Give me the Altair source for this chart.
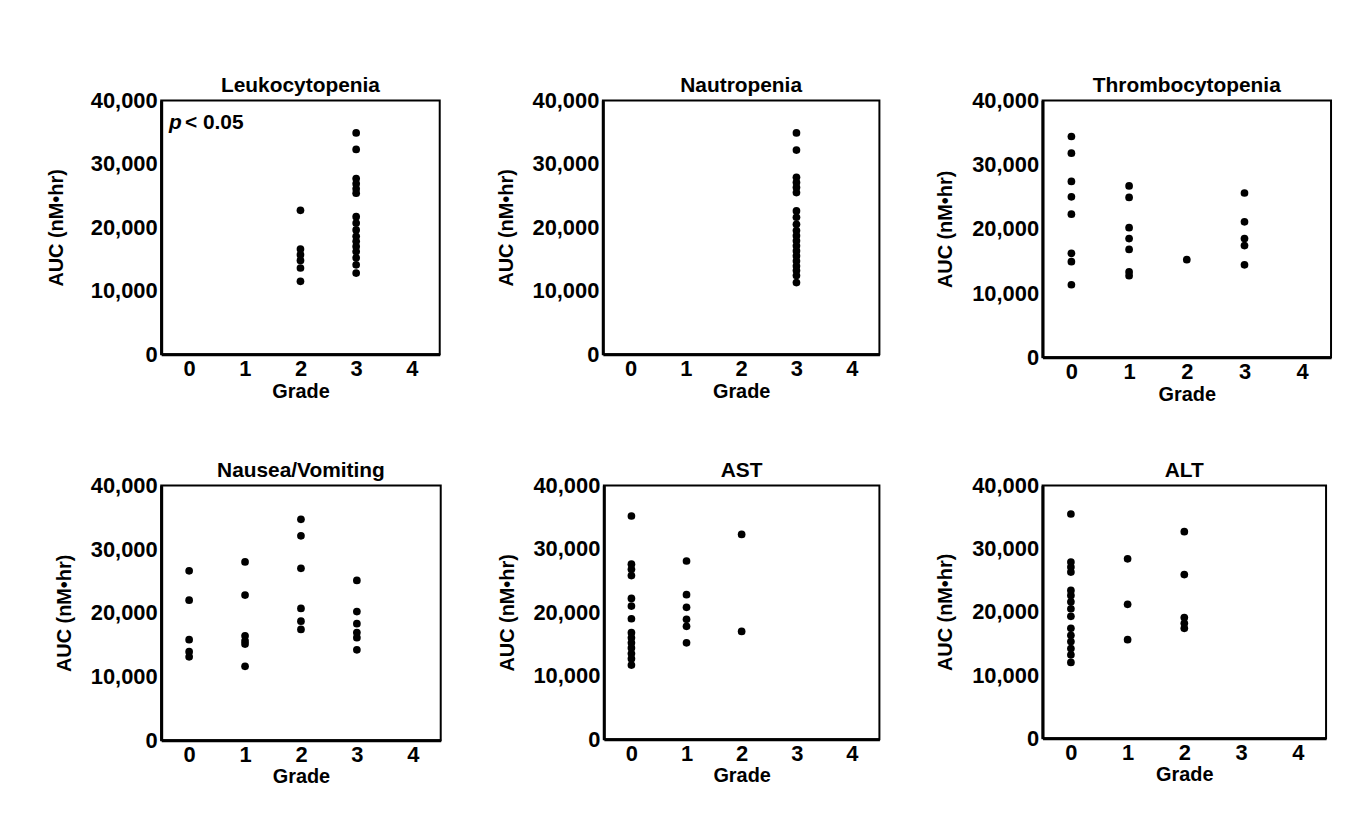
import altair as alt
import pandas as pd

FONT = "Liberation Sans"

# ---- data (AUC in nM*hr) ----
leuko_grade = [2]*6 + [3]*16
leuko_auc = [22700, 16600, 15700, 14800, 13600, 11500,
             34900, 32300, 27700, 26900, 26100, 25400, 21700, 20700, 19600,
             18600, 17800, 17000, 16200, 15200, 14100, 12800]

neutro_grade = [3]*20
neutro_auc = [34900, 32200, 27900, 27100, 26300, 25500, 22600, 21600, 20500, 19500,
              18700, 17900, 17100, 16300, 15500, 14700, 13900, 13200, 12400, 11300]

thrombo_grade = [0]*8 + [1]*7 + [2] + [3]*5
thrombo_auc = [34400, 31800, 27400, 25000, 22300, 16200, 14900, 11300,
               26700, 24900, 20200, 18500, 16800, 13300, 12700,
               15200,
               25600, 21100, 18500, 17400, 14400]

nausea_grade = [0]*5 + [1]*6 + [2]*6 + [3]*6
nausea_auc = [26600, 22000, 15800, 13900, 13100,
              28000, 22800, 16400, 15600, 15100, 11600,
              34700, 32100, 27000, 20700, 18700, 17400,
              25100, 20200, 18300, 16900, 16100, 14200]

ast_grade = [0]*14 + [1]*6 + [2]*2
ast_auc = [35200, 27600, 26800, 25800, 22200, 21000, 19000, 16800, 16000, 15200,
           14400, 13500, 12700, 11700,
           28100, 22800, 20800, 18900, 17800, 15200,
           32300, 17000]

alt_grade = [0]*15 + [1]*3 + [2]*5
alt_auc = [35500, 27900, 27100, 26300, 23400, 22600, 21600, 20500, 19300, 17400,
           16300, 15300, 14200, 13200, 12000,
           28400, 21200, 15600,
           32700, 25900, 19100, 18200, 17400]

titles = ["Leukocytopenia", "Nautropenia", "Thrombocytopenia",
          "Nausea/Vomiting", "AST", "ALT"]
grade_ticks = [0, 1, 2, 3, 4]
auc_ticks = [0, 10000, 20000, 30000, 40000]

annot_text = ["p", "< 0.05"]
annot_grade = [-0.36, -0.36]
annot_auc = [36400, 36400]


def panel(title, grades, aucs, w, h, annotate=False, ytitle_pad=16):
    df = pd.DataFrame({"Grade": grades, "AUC": aucs})
    pts = alt.Chart(df).mark_circle(size=60, color="black", opacity=1).encode(
        x=alt.X("Grade:Q",
                scale=alt.Scale(domain=[-0.5, 4.5], nice=False, zero=False),
                axis=alt.Axis(values=grade_ticks, title="Grade", format="d",
                              titlePadding=2)),
        y=alt.Y("AUC:Q",
                scale=alt.Scale(domain=[0, 40000], nice=False),
                axis=alt.Axis(values=auc_ticks, format=",d", title="AUC (nM•hr)",
                              titlePadding=ytitle_pad)),
    )
    layers = [pts]
    if annotate:
        adf = pd.DataFrame({"t": annot_text, "Grade": annot_grade, "AUC": annot_auc})
        p = alt.Chart(adf.iloc[[0]]).mark_text(
            align="left", baseline="middle", fontSize=21, fontWeight="bold",
            fontStyle="italic", font=FONT, color="black"
        ).encode(x="Grade:Q", y="AUC:Q", text="t:N")
        rest = alt.Chart(adf.iloc[[1]]).mark_text(
            align="left", baseline="middle", fontSize=21, fontWeight="bold",
            font=FONT, color="black", dx=16
        ).encode(x="Grade:Q", y="AUC:Q", text="t:N")
        layers += [p, rest]
    return alt.layer(*layers).properties(
        width=w, height=h,
        title=alt.TitleParams(title, fontSize=21, fontWeight="bold", font=FONT,
                              offset=-6, color="black", anchor="middle"),
    )


row1 = alt.hconcat(
    panel(titles[0], leuko_grade, leuko_auc, 280, 255, annotate=True, ytitle_pad=24),
    panel(titles[1], neutro_grade, neutro_auc, 278, 255),
    panel(titles[2], thrombo_grade, thrombo_auc, 290, 258),
    spacing=54,
)
row2 = alt.hconcat(
    panel(titles[3], nausea_grade, nausea_auc, 281, 256),
    panel(titles[4], ast_grade, ast_auc, 277, 255),
    panel(titles[5], alt_grade, alt_auc, 285, 254),
    spacing=54,
)

chart = alt.vconcat(row1, row2, spacing=54).properties(
    padding={"left": 37, "top": 64, "right": 5, "bottom": 5},
    background="white",
).configure_view(
    stroke="black", strokeWidth=2, fill="white"
).configure_axis(
    domain=True, domainColor="black", domainWidth=3,
    ticks=False, grid=False,
    labelFont=FONT, labelFontSize=22, labelFontWeight="bold", labelColor="black",
    labelPadding=4,
    titleFont=FONT, titleFontSize=20, titleFontWeight="bold", titleColor="black",
    titlePadding=16,
).configure_title(
    font=FONT
)

chart.save("out.html", embed_options={"renderer": "svg", "actions": False})
